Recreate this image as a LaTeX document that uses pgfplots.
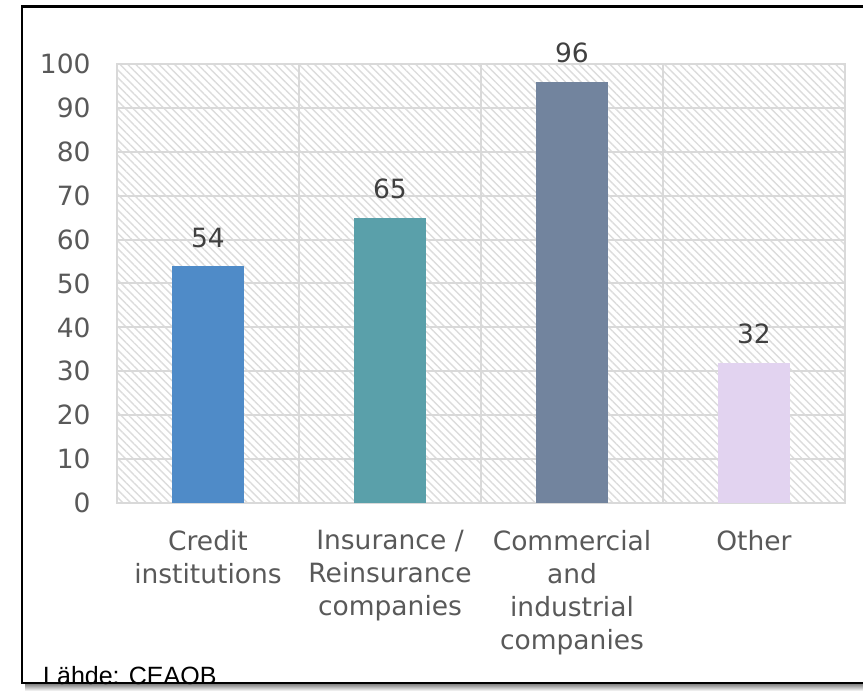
\documentclass[border=0pt]{standalone}
\usepackage{pgfplots}
\pgfplotsset{compat=1.18}
\usetikzlibrary{patterns.meta}
\usepackage{fontspec}
\setmainfont{DejaVu Sans}
\newfontfamily\arialf{Liberation Sans}
\definecolor{cblue}{HTML}{4F8BC8}
\definecolor{cteal}{HTML}{5AA0AA}
\definecolor{cslate}{HTML}{72849E}
\definecolor{clav}{HTML}{E2D3F0}
\definecolor{gridc}{HTML}{D9D9D9}
\definecolor{hatchc}{HTML}{DCDCDC}
\definecolor{tickc}{HTML}{595959}
\definecolor{labc}{HTML}{404040}
\begin{document}
\begin{tikzpicture}
\useasboundingbox (0,0) rectangle (863bp,691bp);
\shade[top color=black!55, bottom color=white] (25bp,0bp) rectangle (870bp,8bp);
\draw[line width=2.8bp, line cap=rect] (870bp,684.5bp) -- (22bp,684.5bp) -- (22bp,8bp) -- (870bp,8bp);
\begin{axis}[
  at={(117bp,188bp)}, anchor=south west,
  scale only axis, width=728bp, height=439bp,
  xmin=-0.5, xmax=3.5, ymin=0, ymax=100,
  ybar, bar width=72bp,
  xtick={0,1,2,3},
  xticklabels={{Credit\\institutions},{Insurance /\\Reinsurance\\companies},{Commercial\\and\\industrial\\companies},{Other}},
  minor xtick={0.5,1.5,2.5},
  xminorgrids, ymajorgrids, xmajorgrids=false,
  ytick={0,10,...,100},
  major tick length=0pt, minor tick length=0pt,
  axis line style={draw=gridc, line width=2bp},
  grid style={draw=gridc, line width=2bp},
  minor grid style={draw=gridc, line width=2bp},
  axis background/.style={pattern={Lines[angle=-45,distance=5.5bp,line width=1.4bp]}, pattern color=hatchc},
  yticklabel style={font=\fontsize{26.5bp}{30bp}\selectfont, text=tickc, xshift=-23bp},
  xticklabel style={font=\fontsize{26.5bp}{33bp}\selectfont, text=tickc, align=center, yshift=-24bp},
  nodes near coords,
  nodes near coords style={font=\fontsize{26.5bp}{30bp}\selectfont, text=labc, yshift=15bp},
  /pgf/number format/assume math mode=true,
]
\addplot[fill=cblue, draw=none, bar shift=0pt] coordinates {(0,54)};
\addplot[fill=cteal, draw=none, bar shift=0pt] coordinates {(1,65)};
\addplot[fill=cslate, draw=none, bar shift=0pt] coordinates {(2,96)};
\addplot[fill=clav, draw=none, bar shift=0pt] coordinates {(3,32)};
\end{axis}
\node[anchor=base west, inner sep=0pt, font=\arialf\fontsize{25bp}{30bp}\selectfont] at (43bp,7bp) {Lähde: CEAOB};
\end{tikzpicture}
\end{document}
